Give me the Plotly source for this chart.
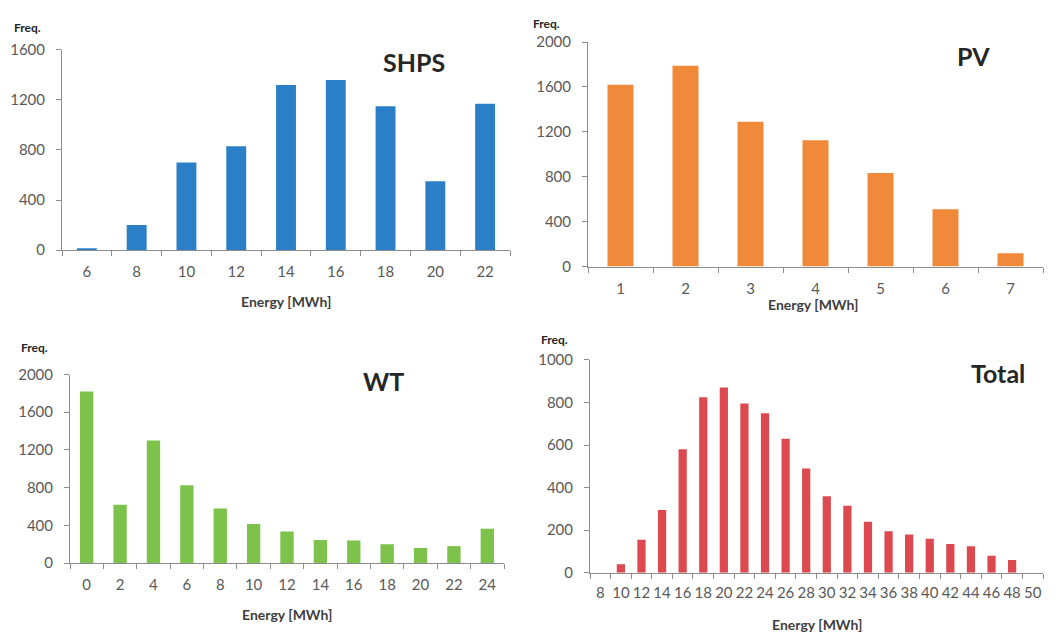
import plotly.graph_objects as go

W, H = 1062, 644

# ---- data ----
shps_cat = ["6", "8", "10", "12", "14", "16", "18", "20", "22"]
shps_val = [15, 200, 700, 830, 1320, 1360, 1150, 550, 1170]

pv_cat = ["1", "2", "3", "4", "5", "6", "7"]
pv_val = [1620, 1790, 1290, 1125, 835, 510, 120]

wt_cat = ["0", "2", "4", "6", "8", "10", "12", "14", "16", "18", "20", "22", "24"]
wt_val = [1820, 620, 1300, 825, 580, 415, 335, 245, 240, 200, 160, 180, 365]

tot_cat = ["8", "10", "12", "14", "16", "18", "20", "22", "24", "26", "28", "30",
           "32", "34", "36", "38", "40", "42", "44", "46", "48", "50"]
tot_val = [0, 40, 155, 295, 580, 825, 870, 795, 750, 630, 490, 360,
           315, 240, 195, 180, 160, 135, 125, 80, 60, 0]

panels = [
    # name, cats, vals, color, x px range, y px range (top,bottom), ymax, dtick
    ("SHPS", shps_cat, shps_val, "#2B7FC7", (62, 510), (41, 247), 1600, 400),
    ("PV", pv_cat, pv_val, "#F08A3A", (588, 1043), (33, 264), 2000, 400),
    ("WT", wt_cat, wt_val, "#7DC24A", (70, 504), (375, 569), 2000, 400),
    ("Total", tot_cat, tot_val, "#DC4A50", (590, 1043), (360, 579), 1000, 200),
]

title_pos = [(414, 54), (973, 47), (383, 382), (998, 373)]
freq_pos = [(27, 18), (546, 14), (34, 347), (554, 339)]
energy_pos = [(286, 300), (813, 303), (287, 622), (817, 632)]

FONT = "Lato"
AXIS_COLOR = "#8C8C8C"
TICK_COLOR = "#595959"

fig = go.Figure()
layout = {}
annotations = []

def px2paper(x, y):
    return x / W, 1 - y / H

for i, (name, cats, vals, color, (x0, x1), (yt, yb), ymax, dt) in enumerate(panels):
    k = "" if i == 0 else str(i + 1)
    fig.add_trace(go.Bar(
        x=cats, y=vals, marker=dict(color=color, line=dict(width=0)),
        width=0.4, xaxis="x" + k, yaxis="y" + k, showlegend=False,
    ))
    layout["xaxis" + k] = dict(
        type="category", domain=[x0 / W, x1 / W], anchor="y" + k,
        showline=True, linecolor=AXIS_COLOR, linewidth=1,
        ticks="outside", ticklen=5, tickcolor=AXIS_COLOR, tickson="boundaries",
        tickfont=dict(family=FONT, size=15, color=TICK_COLOR),
        ticklabelstandoff=8 if i != 3 else 6, tickangle=0,
        showgrid=False, zeroline=False, fixedrange=True,
    )
    layout["yaxis" + k] = dict(
        domain=[1 - yb / H, 1 - yt / H], anchor="x" + k,
        range=[0, ymax], dtick=dt, tick0=0,
        showline=True, linecolor=AXIS_COLOR, linewidth=1,
        ticks="outside", ticklen=5, tickcolor=AXIS_COLOR,
        tickfont=dict(family=FONT, size=15, color=TICK_COLOR),
        ticklabelstandoff=8,
        showgrid=False, zeroline=False, fixedrange=True,
    )
    tx, ty = px2paper(*title_pos[i])
    annotations.append(dict(text="<b>%s</b>" % name, x=tx, y=ty, xref="paper", yref="paper",
                            xanchor="center", yanchor="middle", showarrow=False,
                            font=dict(family=FONT, size=25, color="#262626")))
    fx, fy = px2paper(*freq_pos[i])
    annotations.append(dict(text="<b>Freq.</b>", x=fx, y=fy, xref="paper", yref="paper",
                            xanchor="center", yanchor="middle", showarrow=False,
                            font=dict(family=FONT, size=12, color="#262626")))
    ex, ey = px2paper(*energy_pos[i])
    annotations.append(dict(text="<b>Energy [MWh]</b>", x=ex, y=ey, xref="paper", yref="paper",
                            xanchor="center", yanchor="middle", showarrow=False,
                            font=dict(family=FONT, size=14, color="#404040")))

fig.update_layout(
    width=W, height=H, margin=dict(l=0, r=0, t=0, b=0),
    paper_bgcolor="white", plot_bgcolor="white",
    bargap=0.6, annotations=annotations, **layout,
)

fig.write_html("out.html", config={"displayModeBar": False})
